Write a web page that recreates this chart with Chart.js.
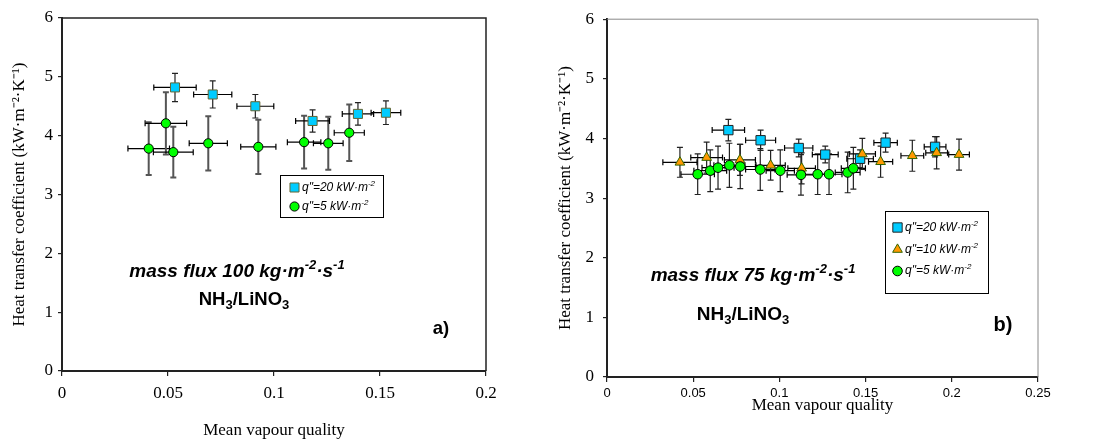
<!DOCTYPE html>
<html>
<head>
<meta charset="utf-8">
<script src="https://cdn.jsdelivr.net/npm/chart.js@4.4.1/dist/chart.umd.min.js"></script>
<style>
  body { margin: 0; background: #fff; width: 1094px; height: 443px; overflow: hidden; position: relative; }
  canvas { position: absolute; top: 0; }
  #chartA { left: 0; }
  #chartB { left: 545px; }
</style>
</head>
<body>
<canvas id="chartA" width="545" height="443"></canvas>
<canvas id="chartB" width="549" height="443"></canvas>
<script>
// ---- data ----
// a) mass flux 100
const aSqX = [0.0533, 0.0711, 0.0912, 0.1182, 0.1396, 0.1528];
const aSqY = [4.82, 4.70, 4.50, 4.25, 4.37, 4.39];
const aSqXErr = [0.010, 0.009, 0.0087, 0.008, 0.0074, 0.007];
const aSqYErr = [0.24, 0.23, 0.20, 0.19, 0.19, 0.20];

const aCirX = [0.0409, 0.0490, 0.0525, 0.0690, 0.0926, 0.1142, 0.1256, 0.1355];
const aCirY = [3.78, 4.21, 3.72, 3.87, 3.81, 3.89, 3.87, 4.05];
const aCirXErr = [0.0098, 0.0098, 0.0094, 0.009, 0.0083, 0.0079, 0.007, 0.0071];
const aCirYErr = [0.45, 0.53, 0.43, 0.46, 0.46, 0.45, 0.45, 0.48];

// b) mass flux 75
const bSqX = [0.0704, 0.0891, 0.1112, 0.1266, 0.1468, 0.1616, 0.1903];
const bSqY = [4.14, 3.97, 3.84, 3.73, 3.66, 3.93, 3.86];
const bSqXErr = [0.0094, 0.0087, 0.0082, 0.0075, 0.0077, 0.0068, 0.0063];
const bSqYErr = [0.18, 0.17, 0.15, 0.14, 0.15, 0.16, 0.17];

const bTriX = [0.0423, 0.0578, 0.0771, 0.0949, 0.1129, 0.1481, 0.1587, 0.1771, 0.1912, 0.2042];
const bTriY = [3.60, 3.68, 3.64, 3.55, 3.50, 3.74, 3.61, 3.71, 3.76, 3.73];
const bTriXErr = [0.0099, 0.0092, 0.009, 0.0085, 0.008, 0.0076, 0.007, 0.0066, 0.0063, 0.006];
const bTriYErr = [0.25, 0.26, 0.26, 0.25, 0.26, 0.26, 0.26, 0.26, 0.27, 0.26];

const bCirX = [0.0526, 0.0599, 0.0644, 0.0710, 0.0773, 0.0889, 0.1005, 0.1125, 0.1222, 0.1288, 0.1396, 0.1429];
const bCirY = [3.40, 3.46, 3.51, 3.55, 3.53, 3.48, 3.46, 3.39, 3.40, 3.40, 3.43, 3.50];
const bCirXErr = [0.0097, 0.0095, 0.0093, 0.009, 0.0088, 0.0085, 0.0082, 0.008, 0.0077, 0.0075, 0.0072, 0.007];
const bCirYErr = [0.34, 0.35, 0.36, 0.37, 0.37, 0.35, 0.35, 0.34, 0.34, 0.34, 0.34, 0.35];

const labels20 = [["q\"=20 kW\u00b7m", "n"], ["-2", "sup"]];
const labels10 = [["q\"=10 kW\u00b7m", "n"], ["-2", "sup"]];
const labels5 = [["q\"=5 kW\u00b7m", "n"], ["-2", "sup"]];

const xTicksA = [0, 0.05, 0.1, 0.15, 0.2];
const xTicksB = [0, 0.05, 0.1, 0.15, 0.2, 0.25];
const yTicks = [0, 1, 2, 3, 4, 5, 6];

const yTitle = "Heat transfer coefficient (kW\u00b7m\u207b\u00b2\u00b7K\u207b\u00b9)";
const xTitle = "Mean vapour quality";

const SERIF = "'Liberation Serif', 'Times New Roman', serif";
const SANS = "'Liberation Sans', Arial, sans-serif";

function pts(xs, ys, xe, ye) {
  return xs.map((x, i) => ({ x: x, y: ys[i], xe: xe[i], ye: ye[i] }));
}

// draw text made of normal / superscript / subscript runs
function rich(ctx, x, y, runs, size, style, align) {
  const fontFor = k => style + " " + (k === "n" ? size : Math.round(size * 0.68)) + "px " + SANS;
  let w = 0;
  runs.forEach(([t, k]) => { ctx.font = fontFor(k); w += ctx.measureText(t).width; });
  let cx = align === "left" ? x : x - w / 2;
  ctx.textBaseline = "middle";
  ctx.textAlign = "left";
  runs.forEach(([t, k]) => {
    ctx.font = fontFor(k);
    const dy = k === "sup" ? -size * 0.33 : k === "sub" ? size * 0.3 : 0;
    ctx.fillText(t, cx, y + dy);
    cx += ctx.measureText(t).width;
  });
}

const errorBars = {
  id: "errorBars",
  beforeDatasetsDraw(chart) {
    const { ctx } = chart;
    const xs = chart.scales.x, ys = chart.scales.y;
    ctx.save();
    chart.data.datasets.forEach(ds => {
      ds.data.forEach(p => {
        const px = xs.getPixelForValue(p.x), py = ys.getPixelForValue(p.y);
        const x0 = xs.getPixelForValue(p.x - p.xe), x1 = xs.getPixelForValue(p.x + p.xe);
        const y0 = ys.getPixelForValue(p.y - p.ye), y1 = ys.getPixelForValue(p.y + p.ye);
        ctx.strokeStyle = ds.errColorV;
        ctx.lineWidth = ds.errWidthV;
        ctx.beginPath();
        ctx.moveTo(px, y0); ctx.lineTo(px, y1);
        ctx.moveTo(px - 3, y0); ctx.lineTo(px + 3, y0);
        ctx.moveTo(px - 3, y1); ctx.lineTo(px + 3, y1);
        ctx.stroke();
        ctx.strokeStyle = "#000";
        ctx.lineWidth = 1.2;
        ctx.beginPath();
        ctx.moveTo(x0, py); ctx.lineTo(x1, py);
        ctx.moveTo(x0, py - 3); ctx.lineTo(x0, py + 3);
        ctx.moveTo(x1, py - 3); ctx.lineTo(x1, py + 3);
        ctx.stroke();
      });
    });
    ctx.restore();
  }
};

const notes = {
  id: "notes",
  afterDraw(chart, args, opts) {
    const { ctx, chartArea: a } = chart;
    ctx.save();
    // top and right frame of the plot box
    ctx.strokeStyle = opts.frameColor;
    ctx.lineWidth = opts.frameWidth;
    ctx.beginPath();
    ctx.moveTo(a.left, a.top); ctx.lineTo(a.right, a.top); ctx.lineTo(a.right, a.bottom);
    ctx.stroke();

    // legend box
    const lg = opts.legend;
    ctx.fillStyle = "#fff";
    ctx.fillRect(lg.box[0], lg.box[1], lg.box[2] - lg.box[0], lg.box[3] - lg.box[1]);
    ctx.strokeStyle = "#000";
    ctx.lineWidth = 1;
    ctx.strokeRect(lg.box[0] + 0.5, lg.box[1] + 0.5, lg.box[2] - lg.box[0], lg.box[3] - lg.box[1]);
    lg.rows.forEach((yy, i) => {
      const ds = chart.data.datasets[lg.order[i]];
      ctx.fillStyle = ds.backgroundColor;
      ctx.strokeStyle = ds.borderColor;
      ctx.lineWidth = 1;
      Chart.helpers.drawPoint(ctx, { pointStyle: ds.pointStyle, radius: ds.pointRadius, rotation: 0, borderWidth: 1 }, lg.markerX, yy);
      ctx.fillStyle = "#000";
      rich(ctx, lg.textX, yy, ds.legendRuns, lg.size, "italic", "left");
    });

    // annotations
    ctx.fillStyle = "#000";
    opts.texts.forEach(t => rich(ctx, t.x, t.y, t.runs, t.size, t.style, "center"));
    ctx.restore();
  }
};

function makeScales(cfg) {
  return {
    x: {
      type: "linear", min: 0, max: cfg.xMax,
      afterBuildTicks: s => { s.ticks = cfg.xTicks.map(v => ({ value: v })); },
      afterFit: s => { s.height = cfg.xHeight; },
      border: { color: "#222", width: 2 },
      grid: { drawOnChartArea: false, drawTicks: true, tickLength: 5, color: "#222", lineWidth: 1.2 },
      ticks: { font: cfg.xTickFont, color: "#000", padding: cfg.xTickPad, maxRotation: 0, autoSkip: false,
        callback: v => String(+v.toFixed(2)) },
      title: { display: true, text: xTitle, color: "#000", font: { family: SERIF, size: 17 },
        padding: { top: 0, bottom: cfg.xTitlePad } }
    },
    y: {
      type: "linear", min: 0, max: 6,
      afterBuildTicks: s => { s.ticks = yTicks.map(v => ({ value: v })); },
      afterFit: s => { s.width = 62; },
      border: { color: "#222", width: 2 },
      grid: { drawOnChartArea: false, drawTicks: true, tickLength: 4, color: "#222", lineWidth: 1.2 },
      ticks: { font: { family: SERIF, size: 17 }, color: "#000", padding: cfg.yTickPad },
      title: { display: true, text: yTitle, color: "#000", font: { family: SERIF, size: 17 },
        padding: { top: cfg.yTitlePad, bottom: 0 } }
    }
  };
}

const common = {
  responsive: false,
  animation: false,
  events: [],
  plugins: { legend: { display: false }, tooltip: { enabled: false } }
};

new Chart(document.getElementById("chartA"), {
  type: "scatter",
  data: {
    datasets: [
      { data: pts(aCirX, aCirY, aCirXErr, aCirYErr), pointStyle: "circle", pointRadius: 4.6,
        backgroundColor: "#00ff00", borderColor: "#000", borderWidth: 1,
        errColorV: "#555", errWidthV: 2, legendRuns: labels5 },
      { data: pts(aSqX, aSqY, aSqXErr, aSqYErr), pointStyle: "rect", pointRadius: 6.4,
        backgroundColor: "#00ccff", borderColor: "#666633", borderWidth: 1,
        errColorV: "#222", errWidthV: 1.2, legendRuns: labels20 }
    ]
  },
  options: Object.assign({}, common, {
    layout: { padding: { left: 0, top: 18, right: 59, bottom: 0 } },
    scales: makeScales({ xMax: 0.2, xTicks: xTicksA, xHeight: 72, xTickPad: 7, xTitlePad: 2,
      xTickFont: { family: SERIF, size: 17 }, yTickPad: 5, yTitlePad: 9 }),
    plugins: Object.assign({}, common.plugins, {
      notes: {
        frameColor: "#222", frameWidth: 1.5,
        legend: { box: [280, 175, 383, 217], rows: [187.5, 206.5], order: [1, 0], markerX: 294.5, textX: 302, size: 12 },
        texts: [
          { x: 237, y: 272, size: 19, style: "italic bold",
            runs: [["mass flux 100 kg\u00b7m", "n"], ["-2", "sup"], ["\u00b7s", "n"], ["-1", "sup"]] },
          { x: 244, y: 300, size: 18.5, style: "bold",
            runs: [["NH", "n"], ["3", "sub"], ["/LiNO", "n"], ["3", "sub"]] },
          { x: 441, y: 329, size: 18.5, style: "bold", runs: [["a)", "n"]] }
        ]
      }
    })
  }),
  plugins: [errorBars, notes]
});

new Chart(document.getElementById("chartB"), {
  type: "scatter",
  data: {
    datasets: [
      { data: pts(bCirX, bCirY, bCirXErr, bCirYErr), pointStyle: "circle", pointRadius: 4.8,
        backgroundColor: "#00ff00", borderColor: "#000", borderWidth: 1,
        errColorV: "#222", errWidthV: 1.2, legendRuns: labels5 },
      { data: pts(bTriX, bTriY, bTriXErr, bTriYErr), pointStyle: "triangle", pointRadius: 5.6,
        backgroundColor: "#ff9900", borderColor: "#336600", borderWidth: 1,
        errColorV: "#222", errWidthV: 1.2, legendRuns: labels10 },
      { data: pts(bSqX, bSqY, bSqXErr, bSqYErr), pointStyle: "rect", pointRadius: 6.6,
        backgroundColor: "#00ccff", borderColor: "#222", borderWidth: 1,
        errColorV: "#222", errWidthV: 1.2, legendRuns: labels20 }
    ]
  },
  options: Object.assign({}, common, {
    layout: { padding: { left: 0, top: 10, right: 56, bottom: 0 } },
    scales: makeScales({ xMax: 0.25, xTicks: xTicksB, xHeight: 66, xTickPad: 4, xTitlePad: 27,
      xTickFont: { family: SANS, size: 13 }, yTickPad: 9, yTitlePad: 10 }),
    plugins: Object.assign({}, common.plugins, {
      notes: {
        frameColor: "#888", frameWidth: 1,
        legend: { box: [340, 211, 443, 293], rows: [227.5, 249.5, 271], order: [2, 1, 0], markerX: 352.5, textX: 360, size: 12 },
        texts: [
          { x: 208, y: 276, size: 19, style: "italic bold",
            runs: [["mass flux 75 kg\u00b7m", "n"], ["-2", "sup"], ["\u00b7s", "n"], ["-1", "sup"]] },
          { x: 198, y: 315, size: 19, style: "bold",
            runs: [["NH", "n"], ["3", "sub"], ["/LiNO", "n"], ["3", "sub"]] },
          { x: 458, y: 325, size: 20, style: "bold", runs: [["b)", "n"]] }
        ]
      }
    })
  }),
  plugins: [errorBars, notes]
});
</script>
</body>
</html>
